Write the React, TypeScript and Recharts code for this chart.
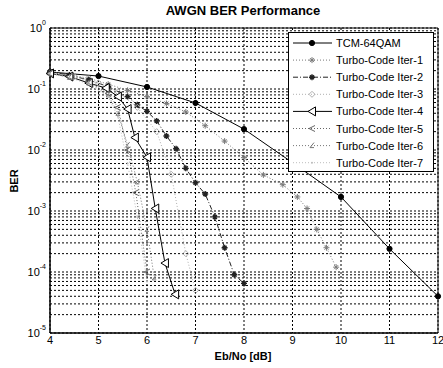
import {
  CartesianGrid,
  Legend,
  Line,
  LineChart,
  ReferenceArea,
  XAxis,
  YAxis,
} from "recharts";

const FONT = "'Liberation Sans', Arial, sans-serif";

const ebnoTicks = [4, 5, 6, 7, 8, 9, 10, 11, 12];

// TCM-64QAM
const ebnoTcm = [4, 5, 6, 7, 8, 9, 10, 11, 12];
const berTcm = [0.19, 0.163, 0.108, 0.059, 0.022, 0.0062, 0.0017, 0.00024, 0.00004];

// Turbo code, iteration 1..7
const ebnoIter1 = [4, 4.4, 4.8, 5.2, 5.6, 6, 6.4, 6.8, 7.2, 7.6, 8, 8.4, 8.8, 9.1, 9.3, 9.5, 9.7, 9.9];
const berIter1 = [0.19, 0.17, 0.15, 0.12, 0.095, 0.075, 0.058, 0.042, 0.025, 0.014, 0.0075, 0.0039, 0.0027, 0.0017, 0.0011, 0.0005, 0.00025, 0.00012];

const ebnoIter2 = [4, 4.4, 4.8, 5.2, 5.6, 5.8, 6, 6.2, 6.4, 6.6, 6.8, 7, 7.2, 7.4, 7.6, 7.8, 8];
const berIter2 = [0.19, 0.17, 0.14, 0.11, 0.075, 0.055, 0.043, 0.03, 0.017, 0.0105, 0.005, 0.0029, 0.0019, 0.0008, 0.00025, 0.00009, 0.000065];

const ebnoIter3 = [4, 4.5, 5, 5.4, 5.8, 6.2, 6.5, 6.8, 7];
const berIter3 = [0.18, 0.16, 0.125, 0.09, 0.05, 0.02, 0.004, 0.0002, 0.00005];

const ebnoIter4 = [4, 4.4, 4.8, 5.15, 5.4, 5.6, 5.75, 6, 6.17, 6.37, 6.58];
const berIter4 = [0.18, 0.16, 0.125, 0.104, 0.075, 0.047, 0.016, 0.0076, 0.0011, 0.00014, 0.000043];

const ebnoIter5 = [4, 4.4, 4.8, 5.2, 5.4, 5.6, 5.77, 6];
const berIter5 = [0.18, 0.16, 0.13, 0.085, 0.05, 0.01, 0.002, 0.0001];

const ebnoIter6 = [4, 4.4, 4.8, 5.2, 5.4, 5.6, 5.8, 6, 6.15];
const berIter6 = [0.18, 0.155, 0.125, 0.08, 0.04, 0.012, 0.003, 0.0005, 0.00008];

const ebnoIter7 = [4, 4.4, 4.8, 5.2, 5.4, 5.6, 5.8, 6];
const berIter7 = [0.18, 0.155, 0.12, 0.075, 0.035, 0.006, 0.0008, 0.00007];

const decades = [-5, -4, -3, -2, -1];
const berTicks: number[] = [];
decades.forEach((d) => {
  for (let m = 1; m < 10; m++) berTicks.push(Number((m * Math.pow(10, d)).toPrecision(3)));
});
berTicks.push(1);

type Shape = "circle" | "asterisk" | "plus" | "diamond" | "tri" | "lt" | "angle" | "point";

const series = [
  { name: "TCM-64QAM", x: ebnoTcm, y: berTcm, stroke: "#000", dash: undefined, shape: "circle" as Shape },
  { name: "Turbo-Code Iter-1", x: ebnoIter1, y: berIter1, stroke: "#7a7a7a", dash: "1 2", shape: "asterisk" as Shape },
  { name: "Turbo-Code Iter-2", x: ebnoIter2, y: berIter2, stroke: "#222", dash: "5 2 1 2", shape: "plus" as Shape },
  { name: "Turbo-Code Iter-3", x: ebnoIter3, y: berIter3, stroke: "#b0b0b0", dash: "1 2", shape: "diamond" as Shape },
  { name: "Turbo-Code Iter-4", x: ebnoIter4, y: berIter4, stroke: "#000", dash: undefined, shape: "tri" as Shape },
  { name: "Turbo-Code Iter-5", x: ebnoIter5, y: berIter5, stroke: "#666", dash: "1 2", shape: "lt" as Shape },
  { name: "Turbo-Code Iter-6", x: ebnoIter6, y: berIter6, stroke: "#777", dash: "1 2", shape: "angle" as Shape },
  { name: "Turbo-Code Iter-7", x: ebnoIter7, y: berIter7, stroke: "#bdbdbd", dash: "1 2", shape: "point" as Shape },
];

function Marker({ shape, cx, cy, color }: { shape: Shape; cx: number; cy: number; color: string }) {
  if (cx == null || cy == null || isNaN(cx) || isNaN(cy)) return <g />;
  switch (shape) {
    case "circle":
      return <circle cx={cx} cy={cy} r={2.6} fill={color} stroke={color} />;
    case "asterisk":
      return (
        <path
          d={`M${cx - 3},${cy}h6M${cx},${cy - 3}v6M${cx - 2},${cy - 2}l4,4M${cx - 2},${cy + 2}l4,-4`}
          stroke={color}
          fill="none"
        />
      );
    case "plus":
      return (
        <path
          d={`M${cx - 3},${cy}h6M${cx},${cy - 3}v6M${cx - 2},${cy - 2}l4,4M${cx - 2},${cy + 2}l4,-4`}
          stroke={color}
          strokeWidth={1.4}
          fill="none"
        />
      );
    case "diamond":
      return <path d={`M${cx},${cy - 3}l3,3l-3,3l-3,-3z`} stroke={color} fill="none" />;
    case "tri":
      return (
        <path
          d={`M${cx - 4},${cy}L${cx + 3.5},${cy - 4.5}L${cx + 3.5},${cy + 4.5}z`}
          stroke={color}
          fill="#fff"
        />
      );
    case "lt":
      return <path d={`M${cx + 3},${cy - 3}L${cx - 3},${cy}L${cx + 3},${cy + 3}`} stroke={color} fill="none" />;
    case "angle":
      return <path d={`M${cx + 2},${cy - 3}L${cx - 2},${cy + 2}h4`} stroke={color} fill="none" />;
    default:
      return <circle cx={cx} cy={cy} r={1} fill={color} />;
  }
}

function BerTick(props: any) {
  const { x, y, payload } = props;
  const lg = Math.log10(payload.value);
  const e = Math.round(lg);
  if (Math.abs(lg - e) > 1e-6) return <g />;
  return (
    <text x={x} y={y} textAnchor="end" fontSize={11} fontFamily={FONT} fill="#000">
      <tspan dy={4}>10</tspan>
      <tspan dy={-7} fontSize={7}>
        {e}
      </tspan>
    </text>
  );
}

function LegendBox() {
  return (
    <svg width={146} height={140} style={{ display: "block" }}>
      <rect x={0.5} y={0.5} width={145} height={139} fill="#fff" stroke="#000" />
      {series.map((s, i) => {
        const cy = 11 + i * 17.1;
        return (
          <g key={s.name}>
            <line x1={5} x2={44} y1={cy} y2={cy} stroke={s.stroke} strokeDasharray={s.dash} />
            <Marker shape={s.shape} cx={24} cy={cy} color={s.stroke} />
            <text x={48} y={cy + 4} fontSize={11} fontFamily={FONT} fill="#000">
              {s.name}
            </text>
          </g>
        );
      })}
    </svg>
  );
}

export default function App() {
  return (
    <div style={{ position: "relative", width: 443, height: 368, background: "#fff" }}>
      <style>{`body{margin:0}`}</style>
      <LineChart width={443} height={368} margin={{ top: 28, right: 5, bottom: 0, left: 0 }}>
        <CartesianGrid stroke="#000" strokeDasharray="2 2" />
        <XAxis
          dataKey="ebno"
          type="number"
          domain={[4, 12]}
          ticks={ebnoTicks}
          interval={0}
          height={35}
          tickSize={0}
          tickMargin={3}
          tickLine={false}
          axisLine={{ stroke: "#000" }}
          tick={{ fontSize: 11, fill: "#000", fontFamily: FONT }}
          allowDuplicatedCategory={false}
        />
        <YAxis
          dataKey="ber"
          scale="log"
          domain={[1e-5, 1]}
          allowDataOverflow
          ticks={berTicks}
          interval={0}
          width={50}
          tickSize={0}
          tickMargin={4}
          tickLine={false}
          axisLine={{ stroke: "#000" }}
          tick={<BerTick />}
        />
        <ReferenceArea x1={4} x2={12} y1={1e-5} y2={1} fill="none" stroke="#000" ifOverflow="visible" />
        {series.map((s) => (
          <Line
            key={s.name}
            name={s.name}
            data={s.x.map((x, i) => ({ ebno: x, ber: s.y[i] }))}
            dataKey="ber"
            stroke={s.stroke}
            strokeDasharray={s.dash}
            strokeWidth={1}
            isAnimationActive={false}
            dot={(p: any) => <Marker key={p.index} shape={s.shape} cx={p.cx} cy={p.cy} color={s.stroke} />}
            activeDot={false}
          />
        ))}
        <Legend
          layout="vertical"
          align="center"
          verticalAlign="middle"
          wrapperStyle={{ top: 32, left: 288, width: 146, height: 140 }}
          content={() => <LegendBox />}
        />
      </LineChart>
      <div
        style={{
          position: "absolute",
          top: 3,
          left: 0,
          width: 486,
          textAlign: "center",
          fontFamily: FONT,
          fontWeight: "bold",
          fontSize: 13,
        }}
      >
        AWGN BER Performance
      </div>
      <div
        style={{
          position: "absolute",
          top: 350,
          left: 0,
          width: 486,
          textAlign: "center",
          fontFamily: FONT,
          fontWeight: "bold",
          fontSize: 11,
          lineHeight: "13px",
        }}
      >
        Eb/No [dB]
      </div>
      <div
        style={{
          position: "absolute",
          top: 181,
          left: 14,
          transform: "translate(-50%, -50%) rotate(-90deg)",
          fontFamily: FONT,
          fontWeight: "bold",
          fontSize: 11,
        }}
      >
        BER
      </div>
    </div>
  );
}
